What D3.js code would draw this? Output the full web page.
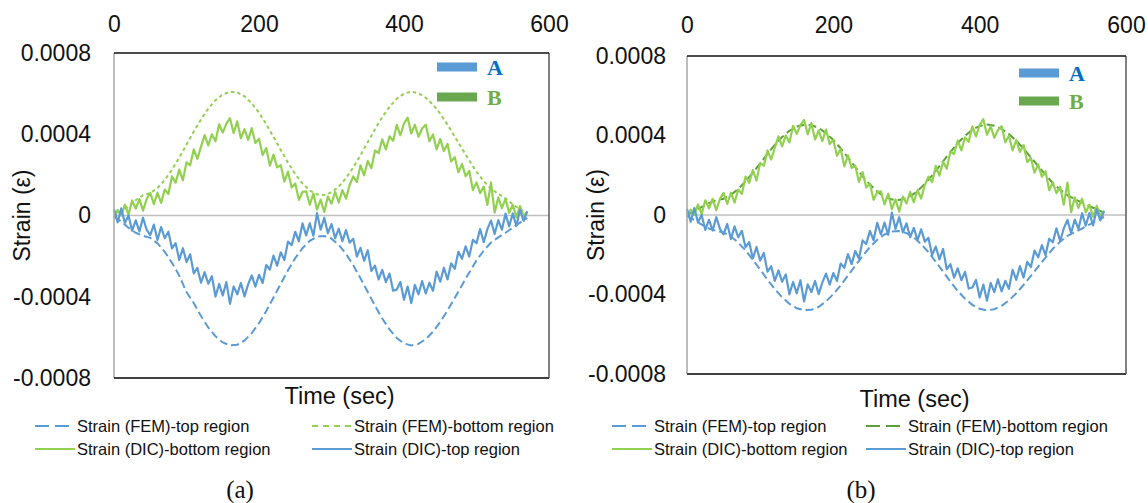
<!DOCTYPE html>
<html><head><meta charset="utf-8">
<script src="https://cdn.jsdelivr.net/npm/d3@7"></script>
<style>
html,body{margin:0;padding:0;background:#fff;}
svg{display:block;font-family:"Liberation Sans",Arial,sans-serif;}
</style></head>
<body><svg id="c" width="1148" height="503"></svg>
<script>
// ---------- DATA (strain values in units of 1e-6) ----------
const xTickValues = [0, 200, 400, 600];
const xTickLabels = ["0", "200", "400", "600"];
const yTickValues = [0.0008, 0.0004, 0, -0.0004, -0.0008];
const yTickLabels = ["0.0008", "0.0004", "0", "-0.0004", "-0.0008"];

const femTime = [0,10,20,30,40,50,60,70,80,90,100,110,120,130,140,150,160,170,180,190,200,210,220,230,240,250,260,270,280,290,300,310,320,330,340,350,360,370,380,390,400,410,420,430,440,450,460,470,480,490,500,510,520,530,540,550,560,570];

const femTopA = [-5,-30,-60,-85,-100,-110,-137,-179,-233,-296,-377,-431,-495,-551,-595,-625,-639,-636,-615,-579,-530,-470,-404,-336,-270,-210,-161,-125,-104,-101,-114,-145,-189,-245,-309,-377,-444,-507,-561,-603,-630,-640,-632,-609,-572,-524,-468,-406,-343,-281,-221,-173,-133,-108,-85,-60,-35,-12];
const femBottomA = [0,15,45,75,100,110,135,175,226,285,349,413,473,526,568,596,609,606,587,553,506,450,387,323,260,204,157,123,104,101,114,142,184,237,297,361,425,484,535,575,600,610,602,580,546,501,447,389,329,271,215,169,132,107,85,55,30,10];
const femTopB = [-5,-25,-48,-68,-80,-88,-108,-139,-178,-225,-275,-325,-373,-414,-447,-469,-479,-477,-462,-435,-398,-354,-305,-255,-206,-162,-125,-98,-83,-81,-91,-113,-146,-187,-235,-285,-335,-382,-421,-452,-472,-480,-474,-457,-430,-394,-352,-306,-260,-214,-170,-134,-105,-86,-68,-48,-28,-10];
const femBottomB = [2,20,40,60,75,82,101,131,169,213,260,308,353,392,424,445,454,452,438,412,377,336,289,241,194,153,118,92,78,76,85,106,138,177,222,270,317,361,399,429,448,455,449,433,407,374,334,290,246,202,160,127,99,80,62,45,28,12];

const dicTime = [0,5,10,15,20,25,30,35,40,45,50,55,60,65,70,75,80,85,90,95,100,105,110,115,120,125,130,135,140,145,150,155,160,165,170,175,180,185,190,195,200,205,210,215,220,225,230,235,240,245,250,255,260,265,270,275,280,285,290,295,300,305,310,315,320,325,330,335,340,345,350,355,360,365,370,375,380,385,390,395,400,405,410,415,420,425,430,435,440,445,450,455,460,465,470,475,480,485,490,495,500,505,510,515,520,525,530,535,540,545,550,555,560,565,570];
const dicTop = [31,-34,35,-37,0,-75,-24,-78,-11,-70,-97,-45,-121,-57,-112,-80,-162,-136,-219,-161,-229,-191,-285,-258,-331,-279,-336,-299,-399,-337,-394,-328,-435,-349,-388,-332,-398,-339,-295,-350,-292,-332,-244,-266,-197,-247,-181,-219,-128,-146,-80,-127,-39,-98,-38,-100,12,-70,-11,-87,-42,-112,-65,-126,-72,-134,-115,-202,-159,-223,-171,-273,-247,-315,-268,-328,-286,-370,-365,-327,-415,-350,-431,-342,-388,-323,-384,-331,-371,-276,-326,-257,-315,-236,-262,-179,-213,-152,-202,-120,-137,-67,-131,-67,-25,-91,-23,-70,9,-54,10,-52,28,-27,20];
const dicBottom = [-10,27,0,53,4,74,34,81,24,81,111,56,112,62,128,106,193,162,226,173,262,247,325,279,339,396,345,400,365,449,408,452,479,406,463,380,425,372,430,357,378,298,332,245,300,237,248,167,216,138,158,77,116,119,53,108,29,78,17,93,58,116,64,125,83,150,193,165,247,198,268,233,320,307,375,325,390,368,446,395,453,482,404,447,388,428,447,366,399,325,377,317,352,266,287,213,254,193,220,125,163,110,142,52,163,14,89,36,82,13,52,-9,46,-4,20];

const legendLabels = ["Strain (FEM)-top region","Strain (FEM)-bottom region","Strain (DIC)-bottom region","Strain (DIC)-top region"];
const abLabels = ["A","B"];
const panelLabels = ["(a)","(b)"];

// ---------- STYLE ----------
const BLUE = "#5b9bd5", LGREEN = "#92d050", DGREEN = "#5e9f3c";
const svg = d3.select("#c");

const panels = [
  {left:114, right:549, top:53, bottom:378, tickBase:32, yLabRight:91, yTitleX:22, titleY:396,
   legCols:[35, 312], legRows:[426, 449], capX:240, capY:498, abX:437, abY:[67, 97],
   fem:[{v:femTopA, c:BLUE, dash:"8,4", ldash:"14,6"},{v:femBottomA, c:LGREEN, dash:"3.5,3", ldash:"6,5"}]},
  {left:687, right:1126, top:56, bottom:374, tickBase:33, yLabRight:666, yTitleX:596, titleY:399,
   legCols:[612, 866], legRows:[426, 449], capX:861, capY:498, abX:1019, abY:[73, 101],
   fem:[{v:femTopB, c:BLUE, dash:"8,4", ldash:"14,6"},{v:femBottomB, c:DGREEN, dash:"8,4", ldash:"14,6"}]}
];

panels.forEach((p, pi) => {
  const g = svg.append("g");
  const x = d3.scaleLinear().domain([0, 600]).range([p.left, p.right]);
  const y = d3.scaleLinear().domain([-0.0008, 0.0008]).range([p.bottom, p.top]);

  // zero line
  g.append("line").attr("x1", p.left).attr("x2", p.right).attr("y1", y(0)).attr("y2", y(0))
    .attr("stroke", "#c0c0c0").attr("stroke-width", 1.5);

  const line = (tArr) => d3.line().x((d, i) => x(tArr[i])).y(d => y(d * 1e-6));

  // FEM lines
  p.fem.forEach(s => {
    g.append("path").datum(s.v).attr("d", line(femTime)).attr("fill", "none")
      .attr("stroke", s.c).attr("stroke-width", 2).attr("stroke-dasharray", s.dash);
  });
  // DIC lines
  g.append("path").datum(dicBottom).attr("d", line(dicTime)).attr("fill", "none")
    .attr("stroke", LGREEN).attr("stroke-width", 2.2).attr("stroke-linejoin", "round");
  g.append("path").datum(dicTop).attr("d", line(dicTime)).attr("fill", "none")
    .attr("stroke", BLUE).attr("stroke-width", 2.2).attr("stroke-linejoin", "round");

  // frame
  g.append("line").attr("x1", p.left).attr("x2", p.left).attr("y1", p.top).attr("y2", p.bottom).attr("stroke", "#a6a6a6").attr("stroke-width", 1.5);
  g.append("line").attr("x1", p.right).attr("x2", p.right).attr("y1", p.top).attr("y2", p.bottom).attr("stroke", "#595959").attr("stroke-width", 1.5);
  g.append("line").attr("x1", p.left).attr("x2", p.right).attr("y1", p.top).attr("y2", p.top).attr("stroke", "#111").attr("stroke-width", 1.5);
  g.append("line").attr("x1", p.left).attr("x2", p.right).attr("y1", p.bottom).attr("y2", p.bottom).attr("stroke", "#404040").attr("stroke-width", 2);

  // top x axis labels
  const xAxis = d3.axisTop(x).tickValues(xTickValues).tickFormat((d, i) => xTickLabels[i]).tickSize(0).tickPadding(0);
  const xa = g.append("g").attr("transform", `translate(0,${p.tickBase})`).call(xAxis);
  xa.select(".domain").remove();
  xa.selectAll("text").attr("font-size", 23).attr("fill", "#111").attr("font-family", "Liberation Sans, Arial").attr("dy", 0);

  // left y axis labels
  const yAxis = d3.axisLeft(y).tickValues(yTickValues).tickFormat((d, i) => yTickLabels[i]).tickSize(0).tickPadding(0);
  const ya = g.append("g").attr("transform", `translate(${p.yLabRight},0)`).call(yAxis);
  ya.select(".domain").remove();
  ya.selectAll("text").attr("font-size", 23).attr("fill", "#111").attr("font-family", "Liberation Sans, Arial");

  // axis titles
  g.append("text").attr("transform", `translate(${p.yTitleX},${(p.top + p.bottom) / 2}) rotate(-90)`)
    .attr("text-anchor", "middle").attr("dy", "0.35em").attr("font-size", 23).attr("fill", "#111").text("Strain (ε)");
  g.append("text").attr("x", (p.left + p.right) / 2 + 8).attr("y", p.titleY).attr("text-anchor", "middle")
    .attr("dy", "0.35em").attr("font-size", 23.5).attr("fill", "#111").text("Time (sec)");

  // bottom legend
  const legItems = [
    {c: BLUE, dash: p.fem[0].ldash, col: 0, row: 0},
    {c: p.fem[1].c, dash: p.fem[1].ldash, col: 1, row: 0},
    {c: LGREEN, dash: null, col: 0, row: 1},
    {c: BLUE, dash: null, col: 1, row: 1}
  ];
  legItems.forEach((it, i) => {
    const lx = p.legCols[it.col], ly = p.legRows[it.row];
    const ln = g.append("line").attr("x1", lx).attr("x2", lx + 40).attr("y1", ly).attr("y2", ly)
      .attr("stroke", it.c).attr("stroke-width", 2);
    if (it.dash) ln.attr("stroke-dasharray", it.dash);
    g.append("text").attr("x", lx + 42).attr("y", ly).attr("dy", "0.35em").attr("font-size", 16.5)
      .attr("fill", "#111").text(legendLabels[i]);
  });

  // A / B legend
  const abColors = [[BLUE, "#0070c0"], ["#6aa84f", "#70ad47"]];
  abLabels.forEach((lab, i) => {
    g.append("rect").attr("x", p.abX).attr("y", p.abY[i] - 4.5).attr("width", 40).attr("height", 9).attr("fill", abColors[i][0]);
    g.append("text").attr("x", p.abX + 50).attr("y", p.abY[i]).attr("dy", "0.35em")
      .attr("font-family", "Liberation Serif, Times New Roman, serif").attr("font-weight", "bold")
      .attr("font-size", 22).attr("fill", abColors[i][1]).text(lab);
  });

  // caption
  g.append("text").attr("x", p.capX).attr("y", p.capY).attr("text-anchor", "middle")
    .attr("font-family", "Liberation Serif, Times New Roman, serif").attr("font-size", 25).attr("fill", "#111").text(panelLabels[pi]);
});
</script></body></html>
